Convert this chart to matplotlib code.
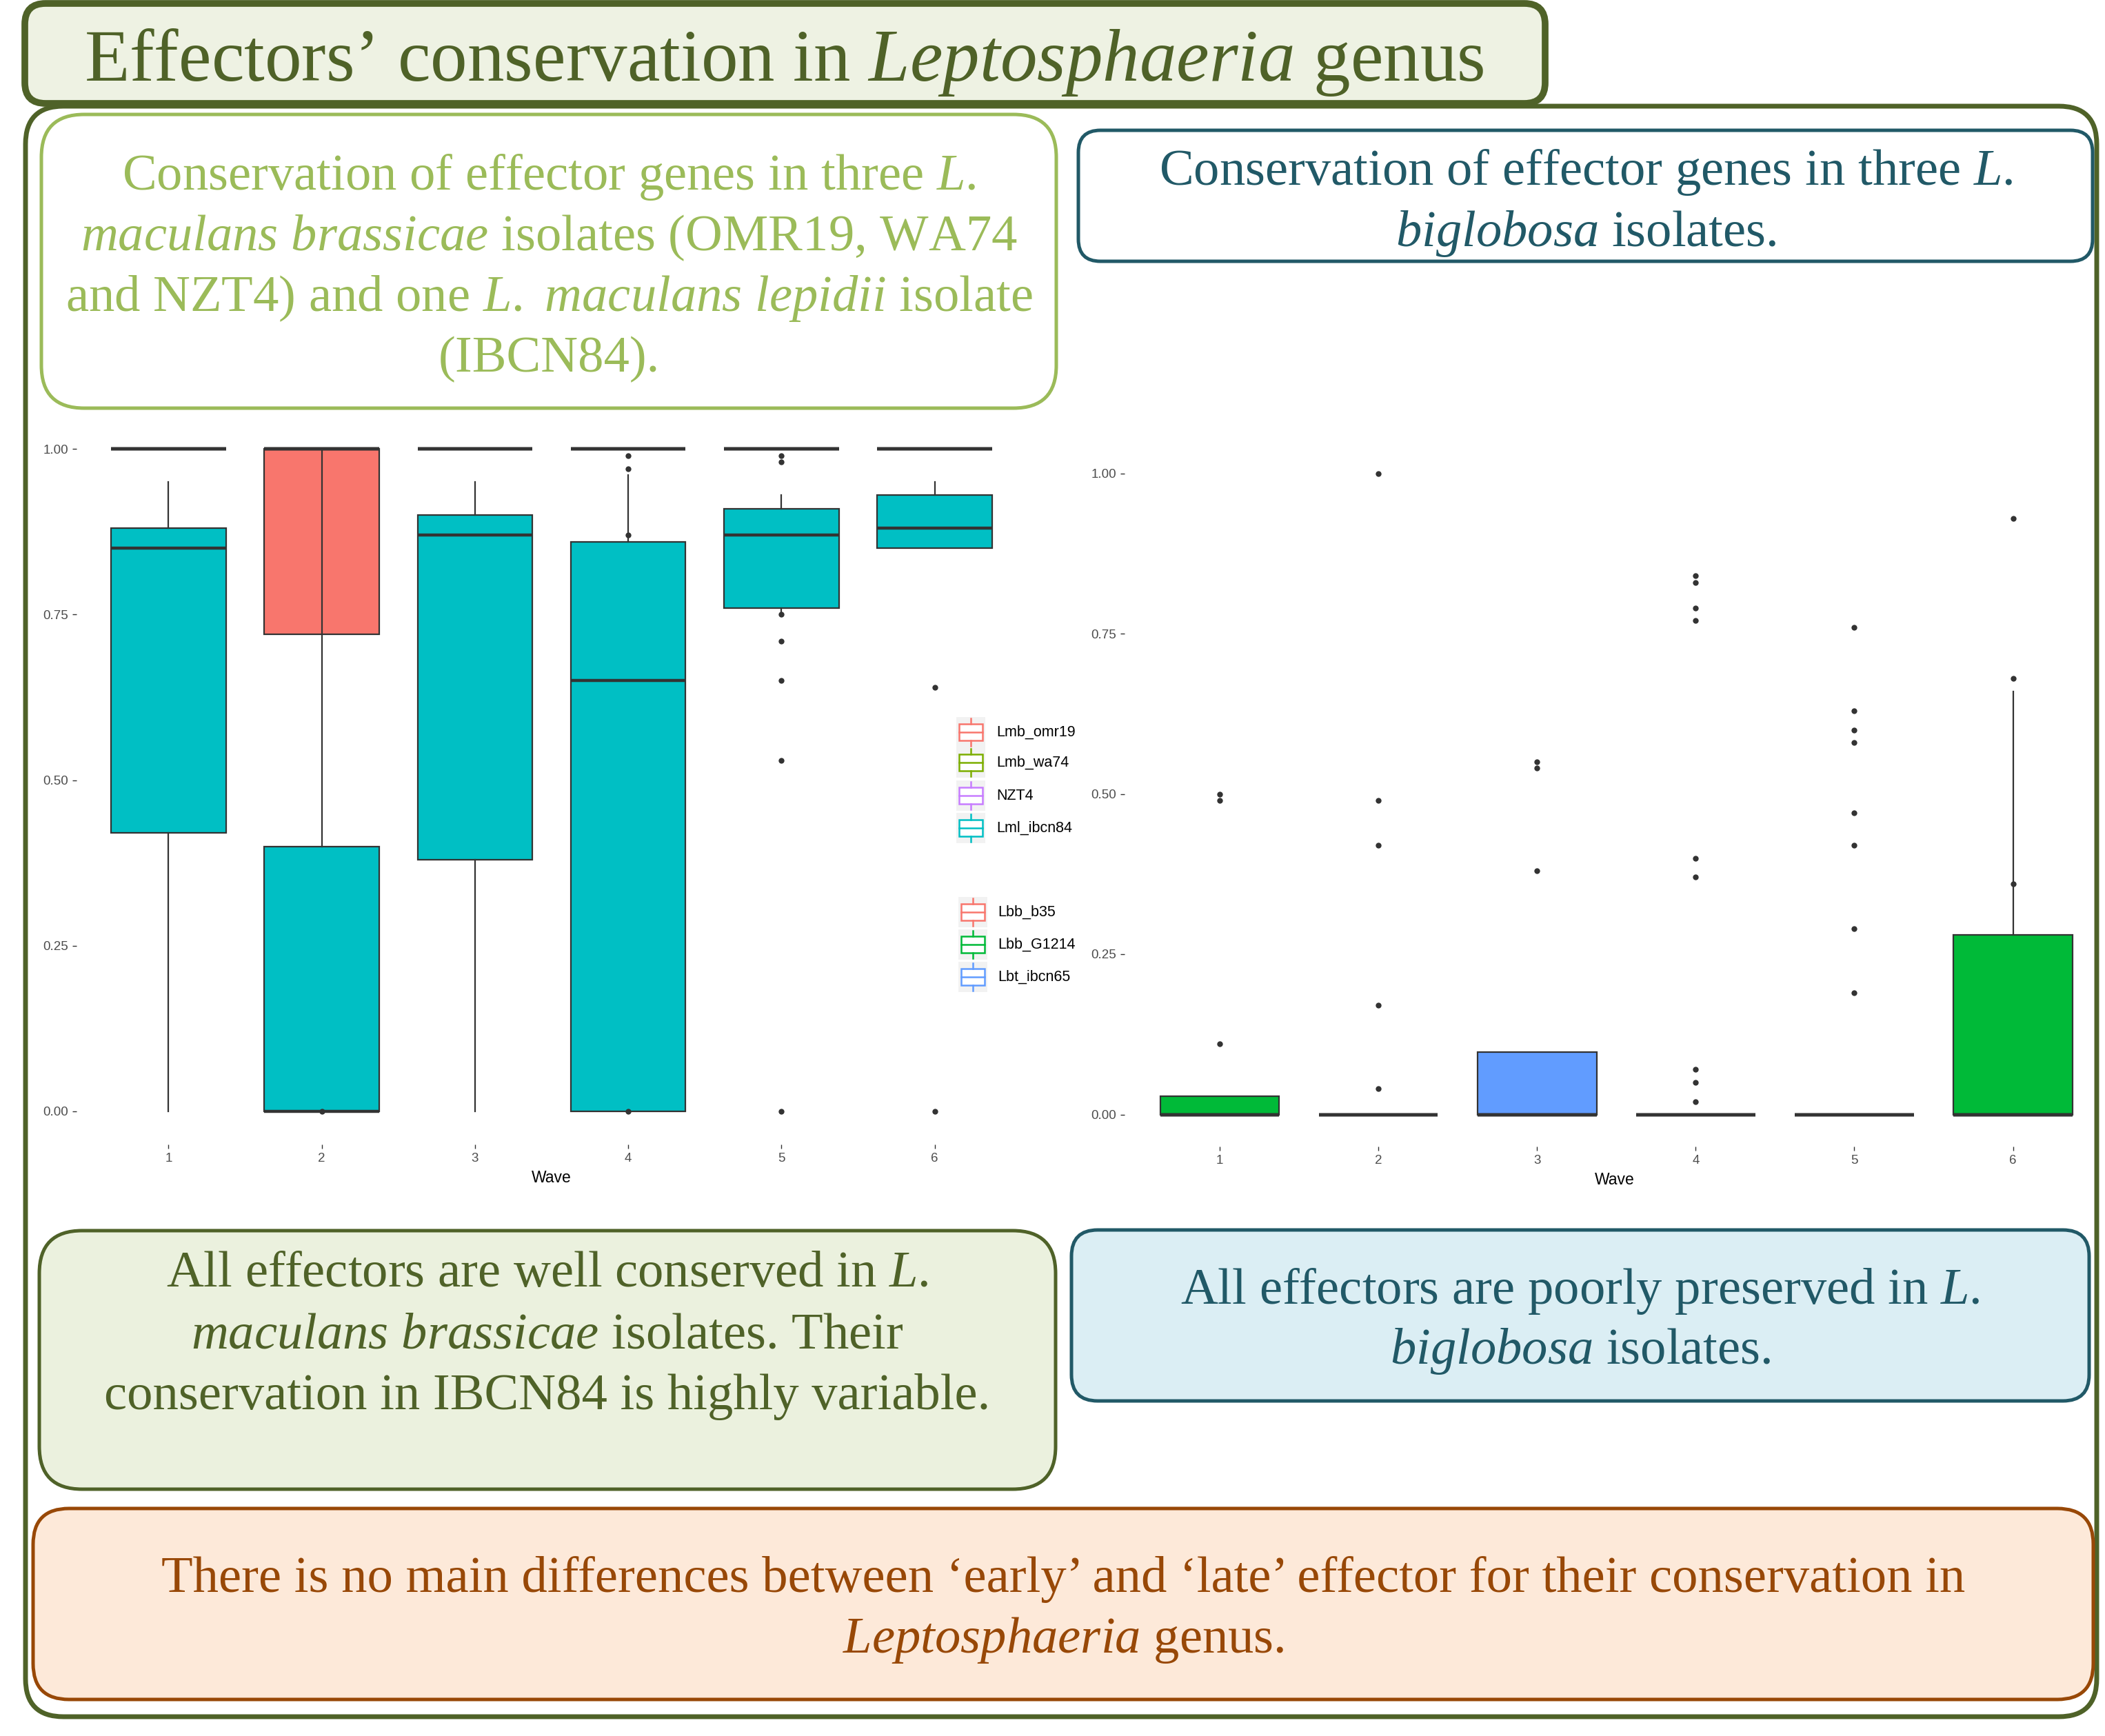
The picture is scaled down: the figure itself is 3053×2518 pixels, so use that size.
import matplotlib
matplotlib.use("Agg")
import matplotlib.pyplot as plt
from matplotlib.patches import FancyBboxPatch, Rectangle

plt.rcParams['mathtext.fontset'] = 'custom'
plt.rcParams['mathtext.rm'] = 'Liberation Serif'
plt.rcParams['mathtext.it'] = 'Liberation Serif:italic'

W, H = 3053, 2518

waves = [1, 2, 3, 4, 5, 6]

# five-number summaries per wave: (whislo, q1, med, q3, whishi)
lmb_omr19 = [(1, 1, 1, 1, 1), (0.72, 0.72, 1.00, 1.00, 1.00), (1, 1, 1, 1, 1),
             (1, 1, 1, 1, 1), (1, 1, 1, 1, 1), (1, 1, 1, 1, 1)]
lmb_wa74 = [(1, 1, 1, 1, 1)] * 6
nzt4 = [(1, 1, 1, 1, 1)] * 6
lml_ibcn84 = [(0.00, 0.42, 0.85, 0.88, 0.95), (0.00, 0.00, 0.00, 0.40, 1.00),
              (0.00, 0.38, 0.87, 0.90, 0.95), (0.00, 0.00, 0.65, 0.86, 0.96),
              (0.75, 0.76, 0.87, 0.91, 0.93), (0.85, 0.85, 0.88, 0.93, 0.95)]
lm_outliers = [[], [0.0], [], [0.99, 0.97, 0.87, 0.0],
               [0.99, 0.98, 0.75, 0.71, 0.65, 0.53, 0.0], [0.64, 0.0]]

lbb_b35 = [(0, 0, 0, 0, 0)] * 6
lbb_g1214 = [(0, 0, 0, 0.028, 0.028), (0, 0, 0, 0, 0), (0, 0, 0, 0, 0),
             (0, 0, 0, 0, 0), (0, 0, 0, 0, 0), (0, 0, 0, 0.28, 0.66)]
lbt_ibcn65 = [(0, 0, 0, 0, 0), (0, 0, 0, 0, 0), (0, 0, 0, 0.097, 0.097),
              (0, 0, 0, 0, 0), (0, 0, 0, 0, 0), (0, 0, 0, 0, 0)]
lb_outliers = [[0.50, 0.49, 0.11], [1.00, 0.49, 0.42, 0.17, 0.04], [0.55, 0.54, 0.38],
               [0.84, 0.83, 0.79, 0.77, 0.40, 0.37, 0.07, 0.05, 0.02],
               [0.76, 0.63, 0.60, 0.58, 0.47, 0.42, 0.29, 0.19], [0.93, 0.68, 0.36]]

lm_names = ["Lmb_omr19", "Lmb_wa74", "NZT4", "Lml_ibcn84"]
lm_colors = ["#F8766D", "#7CAE00", "#C77CFF", "#00BFC4"]
lb_names = ["Lbb_b35", "Lbb_G1214", "Lbt_ibcn65"]
lb_colors = ["#F8766D", "#00BA38", "#619CFF"]
yticks = [0, 0.25, 0.5, 0.75, 1.0]


def it(s):
    return " ".join("$\\mathit{%s}$" % w for w in s.split())


title_text = "Effectors’ conservation in " + it("Leptosphaeria") + " genus"
left_top = ["Conservation of effector genes in three " + it("L."),
            it("maculans brassicae") + " isolates (OMR19, WA74",
            "and NZT4) and one " + it("L.") + " " + it("maculans lepidii") + " isolate",
            "(IBCN84)."]
right_top = ["Conservation of effector genes in three " + it("L."),
             it("biglobosa") + " isolates."]
left_bottom = ["All effectors are well conserved in " + it("L."),
               it("maculans brassicae") + " isolates. Their",
               "conservation in IBCN84 is highly variable."]
right_bottom = ["All effectors are poorly preserved in " + it("L."),
                it("biglobosa") + " isolates."]
conclusion = ["There is no main differences between ‘early’ and ‘late’ effector for their conservation in",
              it("Leptosphaeria") + " genus."]

fig = plt.figure(figsize=(W / 100, H / 100), dpi=100)
bg = fig.add_axes([0, 0, 1, 1])
bg.set_xlim(0, W)
bg.set_ylim(H, 0)
bg.axis("off")


def rbox(x0, y0, x1, y1, fc, ec, lw, r):
    p = FancyBboxPatch((x0, y0), x1 - x0, y1 - y0,
                       boxstyle="round,pad=0,rounding_size=%d" % r,
                       fc=fc, ec=ec, lw=lw)
    bg.add_patch(p)


def lines(txts, cx, baselines, color, size):
    for t, y in zip(txts, baselines):
        bg.text(cx, y, t, ha="center", va="baseline", color=color,
                fontsize=size, family="Liberation Serif")


BODY = 53.7

# outer frame and title
rbox(37, 154, 3041, 2490, "white", "#4F6228", 5.0, 55)
rbox(36, 5, 2241, 150, "#EEF2E3", "#4F6228", 7.0, 30)
lines([title_text], 1137, [117], "#4F6228", 77)

# text boxes
rbox(60, 166, 1532, 592, "white", "#9BBB59", 3.6, 62)
lines(left_top, 796, [275, 363, 451, 539], "#9BBB59", BODY)
rbox(1564, 189, 3035, 379, "white", "#215967", 3.6, 32)
lines(right_top, 2300, [268, 357], "#215967", BODY)
rbox(57, 1785, 1531, 2160, "#EBF1DE", "#4F6228", 3.6, 62)
lines(left_bottom, 794, [1866, 1955, 2044], "#4F6228", BODY)
rbox(1554, 1784, 3030, 2032, "#DBEEF4", "#215967", 3.6, 38)
lines(right_bottom, 2292, [1891, 1978], "#215967", BODY)
rbox(48, 2188, 3036, 2465, "#FDE9D9", "#984807", 3.6, 52)
lines(conclusion, 1542, [2309, 2397], "#984807", BODY)


# legends drawn as ggplot-style keys
def legend(names, colors, cx, ys, tx):
    for name, col, y in zip(names, colors, ys):
        bg.add_patch(Rectangle((cx - 21, y - 22), 42, 44, fc="#F2F2F2", ec="none"))
        bg.add_patch(Rectangle((cx - 17, y - 12), 34, 24, fc="white", ec=col, lw=1.8))
        bg.plot([cx - 17, cx + 17], [y, y], color=col, lw=1.8)
        bg.plot([cx, cx], [y - 20, y - 12], color=col, lw=1.8)
        bg.plot([cx, cx], [y + 12, y + 20], color=col, lw=1.8)
        bg.text(tx, y, name, ha="left", va="center", fontsize=15.5,
                family="Liberation Sans", color="black")


legend(lm_names, lm_colors, 1408, [1062, 1106, 1154, 1201], 1445)
legend(lb_names, lb_colors, 1411, [1323, 1370, 1417], 1447)


def px_axes(x0, y0, x1, y1):
    return fig.add_axes([x0 / W, 1 - y1 / H, (x1 - x0) / W, (y1 - y0) / H])


def draw_series(ax, summaries, color):
    stats = [dict(whislo=s[0], q1=s[1], med=s[2], q3=s[3], whishi=s[4], fliers=[])
             for s in summaries]
    ax.bxp(stats, positions=waves, widths=0.75, patch_artist=True,
           showcaps=False, showfliers=False,
           boxprops=dict(facecolor=color, edgecolor="#333333", linewidth=1.6),
           whiskerprops=dict(color="#333333", linewidth=1.6),
           medianprops=dict(color="#333333", linewidth=3.2))


def style(ax, xmax):
    ax.set_xlim(0.4, xmax)
    ax.set_ylim(-0.05, 1.05)
    ax.patch.set_alpha(0)
    for s in ax.spines.values():
        s.set_visible(False)
    ax.set_xticks(waves)
    ax.set_xticklabels([str(w) for w in waves])
    ax.set_yticks(yticks)
    ax.set_yticklabels(["%.2f" % v for v in yticks])
    ax.tick_params(colors="#333333", labelcolor="#4D4D4D", labelsize=13.5,
                   length=4.5, width=1.0, pad=4)
    for lab in ax.get_xticklabels() + ax.get_yticklabels():
        lab.set_family("Liberation Sans")
    ax.set_xlabel("Wave", fontsize=16.5, family="Liberation Sans", labelpad=6)


def draw_outliers(ax, outliers):
    for w, vals in zip(waves, outliers):
        ax.plot([w] * len(vals), vals, "o", color="#333333", ms=6, mec="none")


axl = px_axes(111, 603, 1489, 1660)
for summ, col in zip([lmb_omr19, lmb_wa74, nzt4, lml_ibcn84], lm_colors):
    draw_series(axl, summ, col)
draw_outliers(axl, lm_outliers)
style(axl, 6.6)

axr = px_axes(1631, 640, 3053, 1663)
for summ, col in zip([lbb_b35, lbb_g1214, lbt_ibcn65], lb_colors):
    draw_series(axr, summ, col)
draw_outliers(axr, lb_outliers)
style(axr, 6.58)

fig.savefig("out.png", dpi=100)
